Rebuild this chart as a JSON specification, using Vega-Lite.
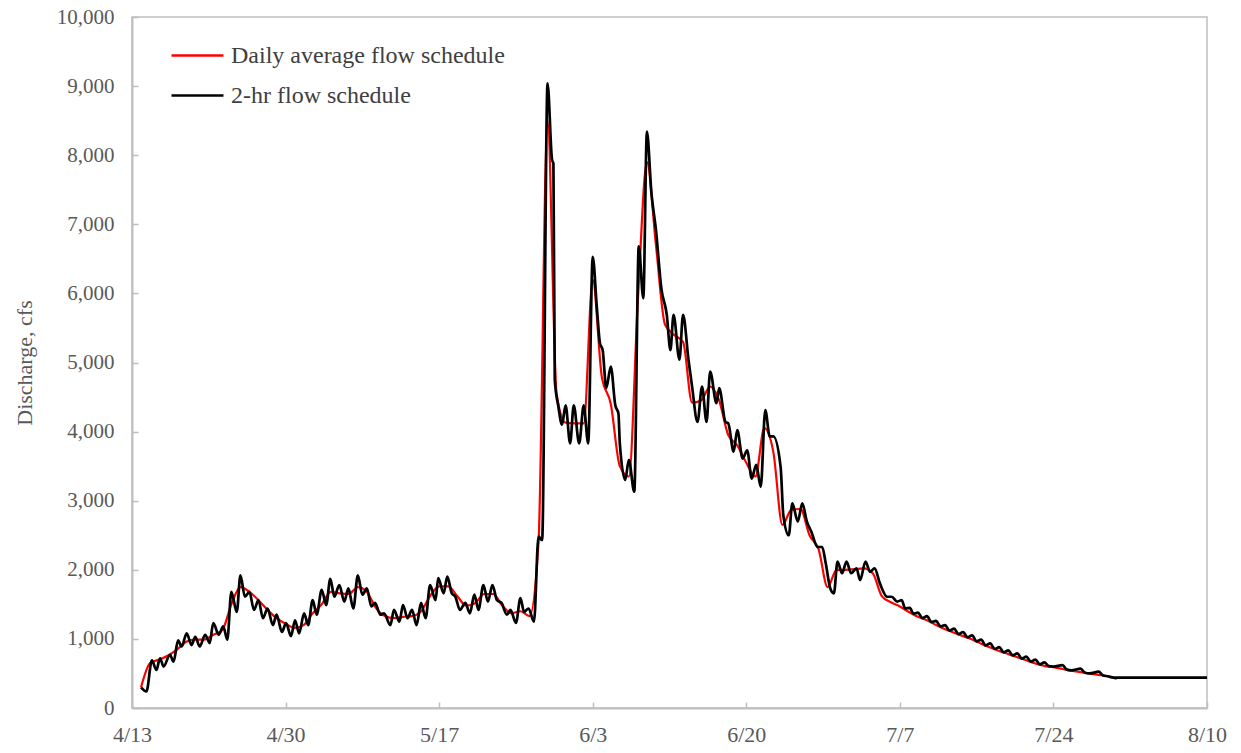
{
  "$schema": "https://vega.github.io/schema/vega-lite/v6.json",
  "autosize": {"type": "none"},
  "padding": {"left": 132, "top": 17, "right": 34, "bottom": 45},
  "width": 1075,
  "height": 691,
  "background": "white",
  "config": {
    "font": "Liberation Serif",
    "view": {"stroke": "#bfbfbf", "strokeWidth": 1.5},
    "axis": {
      "domainColor": "#bfbfbf", "domainWidth": 2,
      "tickColor": "#bfbfbf", "tickWidth": 1.5, "tickSize": -6,
      "labelFont": "Liberation Serif", "labelFontSize": 21, "labelColor": "#595959",
      "titleFont": "Liberation Serif", "titleFontSize": 22, "titleColor": "#595959", "titleFontWeight": "normal",
      "grid": false
    },
    "legend": {
      "labelFont": "Liberation Serif", "labelFontSize": 24, "labelColor": "#404040", "labelLimit": 500
    }
  },
  "datasets": {
    "avg": [
      {"day":1,"cfs":300},{"day":2,"cfs":650},{"day":3,"cfs":700},{"day":4,"cfs":760},{"day":5,"cfs":850},
      {"day":6,"cfs":960},{"day":7,"cfs":990},{"day":8,"cfs":990},{"day":9,"cfs":1060},{"day":10,"cfs":1130},
      {"day":11,"cfs":1500},{"day":12,"cfs":1750},{"day":13,"cfs":1680},{"day":14,"cfs":1560},{"day":15,"cfs":1420},
      {"day":16,"cfs":1300},{"day":17,"cfs":1220},{"day":18,"cfs":1160},{"day":19,"cfs":1200},{"day":20,"cfs":1370},
      {"day":21,"cfs":1500},{"day":22,"cfs":1680},{"day":23,"cfs":1660},{"day":24,"cfs":1650},{"day":25,"cfs":1750},
      {"day":26,"cfs":1680},{"day":27,"cfs":1450},{"day":28,"cfs":1330},{"day":29,"cfs":1300},{"day":30,"cfs":1320},
      {"day":31,"cfs":1330},{"day":32,"cfs":1400},{"day":33,"cfs":1620},{"day":34,"cfs":1760},{"day":35,"cfs":1760},
      {"day":36,"cfs":1620},{"day":37,"cfs":1480},{"day":38,"cfs":1520},{"day":39,"cfs":1650},{"day":40,"cfs":1650},
      {"day":41,"cfs":1480},{"day":42,"cfs":1370},{"day":43,"cfs":1400},{"day":44,"cfs":1330},{"day":45,"cfs":2400},
      {"day":46,"cfs":8500},{"day":47,"cfs":4550},{"day":48,"cfs":4130},{"day":49,"cfs":4120},{"day":50,"cfs":4120},
      {"day":51,"cfs":6200},{"day":52,"cfs":4800},{"day":53,"cfs":4400},{"day":54,"cfs":3500},{"day":55,"cfs":3350},
      {"day":56,"cfs":5900},{"day":57,"cfs":7900},{"day":58,"cfs":6700},{"day":59,"cfs":5550},{"day":60,"cfs":5400},
      {"day":61,"cfs":5300},{"day":62,"cfs":4420},{"day":63,"cfs":4450},{"day":64,"cfs":4650},{"day":65,"cfs":4450},
      {"day":66,"cfs":3950},{"day":67,"cfs":3800},{"day":68,"cfs":3550},{"day":69,"cfs":3350},{"day":70,"cfs":4050},
      {"day":71,"cfs":3700},{"day":72,"cfs":2650},{"day":73,"cfs":2870},{"day":74,"cfs":2880},{"day":75,"cfs":2500},
      {"day":76,"cfs":2300},{"day":77,"cfs":1750},{"day":78,"cfs":2000},{"day":79,"cfs":2000},{"day":80,"cfs":2010},
      {"day":81,"cfs":2020},{"day":82,"cfs":1950},{"day":83,"cfs":1620},{"day":84,"cfs":1530},{"day":85,"cfs":1470},
      {"day":86,"cfs":1390},{"day":87,"cfs":1320},{"day":88,"cfs":1270},{"day":89,"cfs":1200},{"day":90,"cfs":1140},
      {"day":91,"cfs":1090},{"day":92,"cfs":1040},{"day":93,"cfs":990},{"day":94,"cfs":930},{"day":95,"cfs":875},
      {"day":96,"cfs":825},{"day":97,"cfs":780},{"day":98,"cfs":735},{"day":99,"cfs":690},{"day":100,"cfs":645},
      {"day":101,"cfs":610},{"day":102,"cfs":590},{"day":103,"cfs":565},{"day":104,"cfs":540},{"day":105,"cfs":520},
      {"day":106,"cfs":500},{"day":107,"cfs":480},{"day":108,"cfs":460},{"day":109,"cfs":420}
    ],
    "hr2": [
      {"day":1.0,"cfs":300},{"day":1.6,"cfs":240},{"day":2.2,"cfs":690},{"day":2.7,"cfs":550},{"day":3.1,"cfs":720},
      {"day":3.5,"cfs":600},{"day":4.2,"cfs":770},{"day":4.6,"cfs":670},{"day":5.1,"cfs":980},{"day":5.5,"cfs":890},
      {"day":6.05,"cfs":1080},{"day":6.6,"cfs":910},{"day":7.0,"cfs":1030},{"day":7.5,"cfs":890},{"day":8.1,"cfs":1060},
      {"day":8.6,"cfs":940},{"day":9.0,"cfs":1230},{"day":9.6,"cfs":1060},{"day":10.1,"cfs":1180},{"day":10.55,"cfs":990},
      {"day":11.0,"cfs":1680},{"day":11.6,"cfs":1390},{"day":12.0,"cfs":1920},{"day":12.5,"cfs":1610},{"day":13.0,"cfs":1680},
      {"day":13.5,"cfs":1420},{"day":14.0,"cfs":1560},{"day":14.5,"cfs":1300},{"day":15.0,"cfs":1440},{"day":15.6,"cfs":1200},
      {"day":16.0,"cfs":1350},{"day":16.6,"cfs":1100},{"day":17.05,"cfs":1230},{"day":17.6,"cfs":1040},{"day":18.05,"cfs":1270},
      {"day":18.5,"cfs":1080},{"day":19.05,"cfs":1370},{"day":19.5,"cfs":1200},{"day":20.0,"cfs":1560},{"day":20.45,"cfs":1350},
      {"day":21.0,"cfs":1710},{"day":21.5,"cfs":1490},{"day":21.95,"cfs":1870},{"day":22.4,"cfs":1610},{"day":22.95,"cfs":1780},
      {"day":23.5,"cfs":1540},{"day":23.95,"cfs":1730},{"day":24.5,"cfs":1440},{"day":25.0,"cfs":1920},{"day":25.5,"cfs":1640},
      {"day":26.0,"cfs":1730},{"day":26.5,"cfs":1470},{"day":26.9,"cfs":1520},{"day":27.5,"cfs":1350},{"day":27.9,"cfs":1370},
      {"day":28.6,"cfs":1200},{"day":29.0,"cfs":1420},{"day":29.6,"cfs":1250},{"day":30.0,"cfs":1490},{"day":30.5,"cfs":1300},
      {"day":31.0,"cfs":1420},{"day":31.5,"cfs":1200},{"day":32.0,"cfs":1520},{"day":32.5,"cfs":1300},{"day":33.0,"cfs":1780},
      {"day":33.6,"cfs":1560},{"day":33.9,"cfs":1880},{"day":34.5,"cfs":1660},{"day":34.9,"cfs":1900},{"day":35.4,"cfs":1660},
      {"day":35.8,"cfs":1610},{"day":36.3,"cfs":1420},{"day":36.9,"cfs":1520},{"day":37.4,"cfs":1370},{"day":37.9,"cfs":1640},
      {"day":38.35,"cfs":1420},{"day":38.9,"cfs":1780},{"day":39.4,"cfs":1540},{"day":39.9,"cfs":1780},{"day":40.4,"cfs":1560},
      {"day":40.9,"cfs":1520},{"day":41.5,"cfs":1350},{"day":41.9,"cfs":1420},{"day":42.5,"cfs":1230},{"day":43.0,"cfs":1590},
      {"day":43.4,"cfs":1390},{"day":43.9,"cfs":1440},{"day":44.5,"cfs":1250},{"day":45.0,"cfs":2480},{"day":45.4,"cfs":2430},
      {"day":46.0,"cfs":9040},{"day":46.5,"cfs":7930},{"day":46.65,"cfs":7880},{"day":46.8,"cfs":4750},{"day":47.2,"cfs":4360},
      {"day":47.6,"cfs":4100},{"day":48.0,"cfs":4380},{"day":48.5,"cfs":3830},{"day":48.9,"cfs":4380},{"day":49.5,"cfs":3830},
      {"day":50.0,"cfs":4380},{"day":50.5,"cfs":3830},{"day":51.0,"cfs":6530},{"day":51.45,"cfs":5810},{"day":51.8,"cfs":5280},
      {"day":52.1,"cfs":5180},{"day":52.5,"cfs":4630},{"day":53.0,"cfs":4940},{"day":53.5,"cfs":4380},{"day":53.85,"cfs":4260},
      {"day":54.0,"cfs":3830},{"day":54.6,"cfs":3300},{"day":55.0,"cfs":3590},{"day":55.6,"cfs":3130},{"day":56.1,"cfs":6680},
      {"day":56.6,"cfs":5930},{"day":57.0,"cfs":8340},{"day":57.5,"cfs":7450},{"day":58.0,"cfs":6920},{"day":58.6,"cfs":6070},
      {"day":59.2,"cfs":5690},{"day":59.6,"cfs":5180},{"day":59.95,"cfs":5690},{"day":60.6,"cfs":5040},{"day":61.0,"cfs":5690},
      {"day":61.6,"cfs":5040},{"day":62.0,"cfs":4650},{"day":62.6,"cfs":4140},{"day":63.1,"cfs":4650},{"day":63.6,"cfs":4140},
      {"day":64.0,"cfs":4870},{"day":64.7,"cfs":4410},{"day":65.0,"cfs":4630},{"day":65.7,"cfs":4140},{"day":66.0,"cfs":4120},
      {"day":66.6,"cfs":3710},{"day":67.0,"cfs":4020},{"day":67.6,"cfs":3610},{"day":68.1,"cfs":3730},{"day":68.6,"cfs":3320},
      {"day":69.1,"cfs":3520},{"day":69.6,"cfs":3200},{"day":70.1,"cfs":4310},{"day":70.6,"cfs":3930},{"day":71.0,"cfs":3930},
      {"day":71.8,"cfs":3490},{"day":72.1,"cfs":2790},{"day":72.7,"cfs":2500},{"day":73.1,"cfs":2960},{"day":73.7,"cfs":2700},
      {"day":74.2,"cfs":2960},{"day":74.7,"cfs":2700},{"day":75.2,"cfs":2550},{"day":75.9,"cfs":2330},{"day":76.4,"cfs":2330},
      {"day":76.8,"cfs":2090},{"day":77.3,"cfs":1730},{"day":77.7,"cfs":1660},{"day":78.1,"cfs":2120},{"day":78.6,"cfs":1950},
      {"day":79.1,"cfs":2120},{"day":79.6,"cfs":1950},{"day":80.2,"cfs":2020},{"day":80.6,"cfs":1850},{"day":81.2,"cfs":2120},
      {"day":81.7,"cfs":1970},{"day":82.2,"cfs":2020},{"day":82.8,"cfs":1800},{"day":83.6,"cfs":1610},{"day":84.1,"cfs":1610},
      {"day":84.7,"cfs":1540},{"day":85.2,"cfs":1560},{"day":85.6,"cfs":1440},{"day":86.1,"cfs":1450},{"day":86.5,"cfs":1365},
      {"day":87.0,"cfs":1380},{"day":87.5,"cfs":1300},{"day":88.0,"cfs":1330},{"day":88.5,"cfs":1245},{"day":89.0,"cfs":1260},
      {"day":89.5,"cfs":1180},{"day":90.0,"cfs":1200},{"day":90.5,"cfs":1120},{"day":91.0,"cfs":1150},{"day":91.5,"cfs":1070},
      {"day":92.0,"cfs":1100},{"day":92.5,"cfs":1020},{"day":93.0,"cfs":1050},{"day":93.5,"cfs":965},{"day":94.0,"cfs":990},
      {"day":94.5,"cfs":905},{"day":95.0,"cfs":935},{"day":95.5,"cfs":855},{"day":96.0,"cfs":880},{"day":96.5,"cfs":805},
      {"day":97.0,"cfs":835},{"day":97.5,"cfs":760},{"day":98.0,"cfs":790},{"day":98.5,"cfs":715},{"day":99.0,"cfs":745},
      {"day":99.5,"cfs":670},{"day":100.0,"cfs":700},{"day":100.5,"cfs":630},{"day":101.0,"cfs":660},{"day":101.5,"cfs":605},
      {"day":102.0,"cfs":600},{"day":103.0,"cfs":620},{"day":103.5,"cfs":555},{"day":104.0,"cfs":545},{"day":105.0,"cfs":570},
      {"day":105.5,"cfs":510},{"day":106.0,"cfs":500},{"day":107.0,"cfs":525},{"day":107.5,"cfs":470},{"day":108.0,"cfs":460},
      {"day":108.7,"cfs":440},{"day":119,"cfs":440}
    ]
  },
  "encoding": {
    "x": {
      "field": "day", "type": "quantitative",
      "scale": {"domain": [0, 119], "nice": false, "zero": false},
      "axis": {
        "title": null,
        "values": [0, 17, 34, 51, 68, 85, 102, 119],
        "labelExpr": "timeFormat(datetime(2021, 3, 13 + datum.value), '%-m/%-d')",
        "labelPadding": 22,
        "labelFontSize": 22,
        "labelFlush": false
      }
    },
    "y": {
      "field": "cfs", "type": "quantitative",
      "scale": {"domain": [0, 10000], "nice": false},
      "axis": {
        "title": "Discharge, cfs",
        "values": [0, 1000, 2000, 3000, 4000, 5000, 6000, 7000, 8000, 9000, 10000],
        "format": ",.0f",
        "labelPadding": 24,
        "titlePadding": 20
      }
    }
  },
  "layer": [
    {
      "data": {"name": "avg"},
      "mark": {"type": "line", "strokeWidth": 2.2, "interpolate": "monotone"},
      "encoding": {
        "color": {
          "datum": "Daily average flow schedule",
          "scale": {"domain": ["Daily average flow schedule", "2-hr flow schedule"], "range": ["#ff0000", "#000000"]},
          "legend": {
            "title": null, "orient": "none", "legendX": 38, "legendY": 11,
            "symbolType": "stroke", "symbolSize": 2700, "symbolStrokeWidth": 2.5,
            "labelOffset": 6, "rowPadding": -4, "padding": 0
          }
        }
      }
    },
    {
      "data": {"name": "hr2"},
      "mark": {"type": "line", "strokeWidth": 2.7, "interpolate": "monotone"},
      "encoding": {
        "color": {"datum": "2-hr flow schedule"}
      }
    }
  ]
}
